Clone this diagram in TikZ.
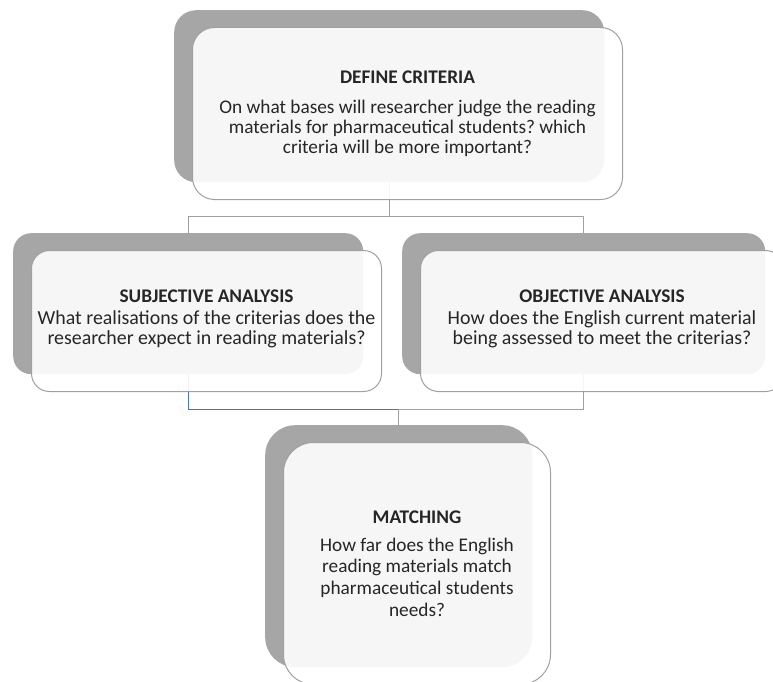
\documentclass[tikz,border=0pt]{standalone}
\usepackage{fontspec}
\setmainfont{Carlito}
\frenchspacing
\pgfdeclarelayer{back}
\pgfdeclarelayer{wires}
\pgfsetlayers{back,wires,main}
\definecolor{shade}{HTML}{A6A6A6}
\definecolor{edge}{HTML}{A0A0A0}
\definecolor{linkblue}{HTML}{4472C4}
\definecolor{ink}{HTML}{262626}
\tikzset{
  backbox/.style={fill=shade, draw=none, anchor=north west, inner sep=0pt},
  frontbox/.style={draw=edge, line width=1pt, fill=white, fill opacity=0.9,
    text opacity=1, anchor=north west, inner sep=0pt, align=center, text=ink,
    font=\fontsize{19.3}{20}\selectfont},
  conn/.style={draw=edge, line width=1pt},
  connblue/.style={draw=linkblue, line width=1pt},
}
% body text of the two analysis cards is set a touch larger
\newcommand\midbody{\fontsize{19.9}{20}\selectfont}
\begin{document}
\begin{tikzpicture}[x=1pt,y=-1pt]
\useasboundingbox (0,0) rectangle (773,682);
% shadow plates behind the cards
\begin{pgfonlayer}{back}
  \fill[white] (0,0) rectangle (773,682);
  \node[backbox, minimum width=430, minimum height=172, rounded corners=22] (bcrit) at (174,10) {};
  \node[backbox, minimum width=350, minimum height=141, rounded corners=18] (bsubj) at (13,233) {};
  \node[backbox, minimum width=363, minimum height=141, rounded corners=18] (bobj) at (402,233) {};
  \node[backbox, minimum width=267, minimum height=242, rounded corners=30] (bmatch) at (265,425) {};
\end{pgfonlayer}
% connectors between the plates
\begin{pgfonlayer}{wires}
  \draw[conn] (bcrit.south) -- ++(0,34) -| (bsubj.north);
  \draw[conn] (bcrit.south) ++(0,34) -| (bobj.north);
  \coordinate (join) at ([yshift=16pt]bmatch.north);
  \draw[connblue] (bsubj.south) |- (join);
  \draw[conn] (bobj.south) |- (join) -- (bmatch.north);
\end{pgfonlayer}
% text cards
\node[frontbox, minimum width=430, minimum height=172, rounded corners=22] (crit) at (192,27)
  {\textbf{DEFINE CRITERIA}\\[10pt]
   On what bases will researcher judge the reading\\
   materials for pharmaceutical students? which\\
   criteria will be more important?};
\node[frontbox, minimum width=350, minimum height=141, rounded corners=18] (subj) at (31,250)
  {\textbf{SUBJECTIVE ANALYSIS}\\[2pt]
   \midbody What realisations of the criterias does the\\
   \midbody researcher expect in reading materials?\\[-12pt]\mbox{}};
\node[frontbox, minimum width=363, minimum height=141, rounded corners=18] (obj) at (420,250)
  {\textbf{OBJECTIVE ANALYSIS}\\[2pt]
   \midbody How does the English current material\\
   \midbody being assessed to meet the criterias?\\[-12pt]\mbox{}};
\node[frontbox, minimum width=267, minimum height=242, rounded corners=30,
      font=\fontsize{19.3}{21.7}\selectfont] (match) at (283,442)
  {\textbf{MATCHING}\\[6pt]
   How far does the English\\
   reading materials match\\
   pharmaceutical students\\
   needs?};
\end{tikzpicture}
\end{document}
